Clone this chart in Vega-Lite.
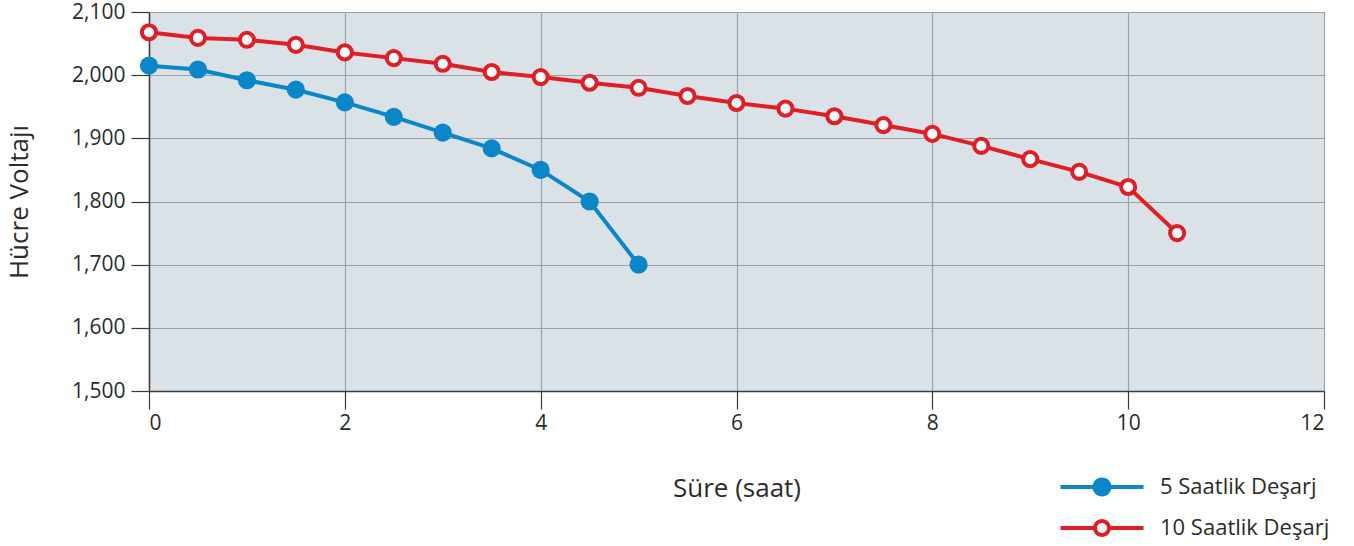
{
  "$schema": "https://vega.github.io/schema/vega-lite/v6.json",
  "autosize": {"type": "none"},
  "width": 1175,
  "height": 379,
  "padding": {"left": 149, "top": 12, "right": 30, "bottom": 155},
  "background": "white",
  "data": {
    "values": [
      {"t": 0, "v": 2015, "s": "5 Saatlik Deşarj"},
      {"t": 0.5, "v": 2009, "s": "5 Saatlik Deşarj"},
      {"t": 1, "v": 1992, "s": "5 Saatlik Deşarj"},
      {"t": 1.5, "v": 1977, "s": "5 Saatlik Deşarj"},
      {"t": 2, "v": 1957, "s": "5 Saatlik Deşarj"},
      {"t": 2.5, "v": 1934, "s": "5 Saatlik Deşarj"},
      {"t": 3, "v": 1909, "s": "5 Saatlik Deşarj"},
      {"t": 3.5, "v": 1884, "s": "5 Saatlik Deşarj"},
      {"t": 4, "v": 1850, "s": "5 Saatlik Deşarj"},
      {"t": 4.5, "v": 1800, "s": "5 Saatlik Deşarj"},
      {"t": 5, "v": 1700, "s": "5 Saatlik Deşarj"},
      {"t": 0, "v": 2068, "s": "10 Saatlik Deşarj"},
      {"t": 0.5, "v": 2059, "s": "10 Saatlik Deşarj"},
      {"t": 1, "v": 2056, "s": "10 Saatlik Deşarj"},
      {"t": 1.5, "v": 2048, "s": "10 Saatlik Deşarj"},
      {"t": 2, "v": 2036, "s": "10 Saatlik Deşarj"},
      {"t": 2.5, "v": 2027, "s": "10 Saatlik Deşarj"},
      {"t": 3, "v": 2018, "s": "10 Saatlik Deşarj"},
      {"t": 3.5, "v": 2005, "s": "10 Saatlik Deşarj"},
      {"t": 4, "v": 1997, "s": "10 Saatlik Deşarj"},
      {"t": 4.5, "v": 1988, "s": "10 Saatlik Deşarj"},
      {"t": 5, "v": 1980, "s": "10 Saatlik Deşarj"},
      {"t": 5.5, "v": 1967, "s": "10 Saatlik Deşarj"},
      {"t": 6, "v": 1956, "s": "10 Saatlik Deşarj"},
      {"t": 6.5, "v": 1947, "s": "10 Saatlik Deşarj"},
      {"t": 7, "v": 1935, "s": "10 Saatlik Deşarj"},
      {"t": 7.5, "v": 1921, "s": "10 Saatlik Deşarj"},
      {"t": 8, "v": 1907, "s": "10 Saatlik Deşarj"},
      {"t": 8.5, "v": 1888, "s": "10 Saatlik Deşarj"},
      {"t": 9, "v": 1867, "s": "10 Saatlik Deşarj"},
      {"t": 9.5, "v": 1847, "s": "10 Saatlik Deşarj"},
      {"t": 10, "v": 1823, "s": "10 Saatlik Deşarj"},
      {"t": 10.5, "v": 1750, "s": "10 Saatlik Deşarj"}
    ]
  },
  "encoding": {
    "x": {
      "field": "t",
      "type": "quantitative",
      "title": "Süre (saat)",
      "scale": {"domain": [0, 12], "nice": false},
      "axis": {"values": [0, 2, 4, 6, 8, 10, 12], "titlePadding": 42}
    },
    "y": {
      "field": "v",
      "type": "quantitative",
      "title": "Hücre Voltajı",
      "scale": {"domain": [1500, 2100], "nice": false, "zero": false},
      "axis": {"values": [1500, 1600, 1700, 1800, 1900, 2000, 2100], "format": ",.0f", "titlePadding": 39}
    },
    "color": {
      "field": "s",
      "type": "nominal",
      "scale": {"domain": ["5 Saatlik Deşarj", "10 Saatlik Deşarj"], "range": ["#0a86c9", "#e01e26"]},
      "legend": {
        "title": null,
        "orient": "none",
        "legendX": 942,
        "legendY": 464,
        "symbolType": "circle",
        "symbolSize": 400,
        "symbolStrokeWidth": 0,
        "labelOffset": 47,
        "labelFontSize": 22,
        "labelLimit": 400,
        "labelFont": "Open Sans",
        "labelColor": "#2b2b2b",
        "rowPadding": 19,
        "encode": {
          "symbols": {
            "update": {
              "shape": [
                {"test": "datum.value === '10 Saatlik Deşarj'", "value": "M-4.15,-0.2H-0.7V0.2H-4.15Z M0.7,-0.2H4.15V0.2H0.7Z M-0.9,0A0.9,0.9 0 1,1 0.9,0A0.9,0.9 0 1,1 -0.9,0Z M-0.5,0A0.5,0.5 0 1,0 0.5,0A0.5,0.5 0 1,0 -0.5,0Z"},
                {"value": "M-4.15,-0.2H4.15V0.2H-4.15Z M-0.95,0A0.95,0.95 0 1,1 0.95,0A0.95,0.95 0 1,1 -0.95,0Z"}
              ],
              "strokeWidth": {"value": 0},
              "opacity": {"value": 1}
            }
          }
        }
      }
    }
  },
  "layer": [
    {
      "mark": {"type": "line", "strokeWidth": 4}
    },
    {
      "transform": [{"filter": "datum.s === '5 Saatlik Deşarj'"}],
      "mark": {"type": "point", "shape": "circle", "filled": true, "size": 330, "opacity": 1}
    },
    {
      "transform": [{"filter": "datum.s === '10 Saatlik Deşarj'"}],
      "mark": {"type": "point", "shape": "circle", "filled": true, "fill": "white", "stroke": "#e01e26", "strokeWidth": 4, "size": 200, "opacity": 1}
    }
  ],
  "config": {
    "view": {"fill": "#dae2e8", "stroke": null},
    "font": "Open Sans",
    "axis": {
      "labelFont": "Open Sans",
      "labelFontSize": 21,
      "labelColor": "#2b2b2b",
      "titleFont": "Open Sans",
      "titleFontSize": 26,
      "titleFontWeight": "normal",
      "titleColor": "#2b2b2b",
      "gridColor": "#98a2a8",
      "gridWidth": 1.2,
      "gridOpacity": 1,
      "domainColor": "#3a3a3a",
      "domainWidth": 1.5,
      "tickColor": "#3a3a3a",
      "tickSize": 18,
      "tickWidth": 1.2,
      "labelPadding": 3
    },
    "axisY": {"labelPadding": 6}
  }
}
